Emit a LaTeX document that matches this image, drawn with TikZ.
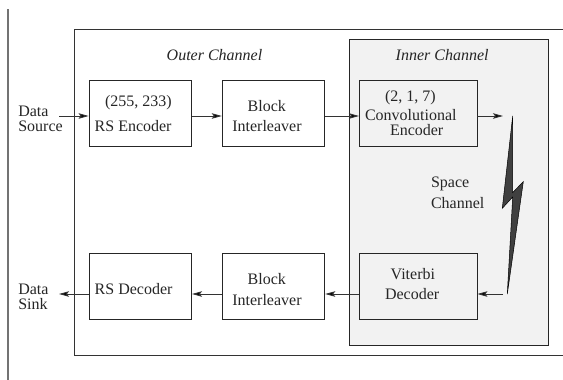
\documentclass[tikz,border=0pt]{standalone}
\usepackage{fontspec}
\setmainfont{Liberation Serif}
\usetikzlibrary{arrows.meta}
\tikzset{
  x=1pt,y=-1pt,
  blockbox/.style={draw=black!85,line width=0.9pt,minimum width=102.5pt,minimum height=66pt,inner sep=0pt,anchor=center},
  grayblock/.style={blockbox,fill=black!5},
  lbl/.style={inner sep=0pt,outer sep=0pt,align=left,anchor=base west,text=black!85,font=\fontsize{16}{16}\selectfont},
  ital/.style={lbl,font=\fontsize{16}{16}\selectfont\itshape},
  conn/.style={draw=black!80,line width=0.9pt,-{Stealth[length=10pt,width=5.5pt,inset=2pt,fill=black]}},
  plainline/.style={draw=black!80,line width=0.9pt},
}
\begin{document}
\begin{tikzpicture}
\useasboundingbox (0,0) rectangle (563,380);
\fill[white] (0,0) rectangle (563,380);
% page rule and outer (open on the right) box
\draw[draw=black!55,line width=1.4pt] (8,9) -- (8,380);
\draw[draw=black!80,line width=0.9pt] (563,29.5) -- (74,29.5) -- (74,355) -- (563,355);
% inner channel
\node[draw=black!85,fill=black!5,line width=0.9pt,minimum width=198.5pt,minimum height=305.5pt,inner sep=0pt] (inner) at (449,192.3) {};
% boxes
\node[blockbox] (enc) at (140.3,113) {};
\node[blockbox] (il1) at (273.5,113) {};
\node[grayblock,minimum width=117.5pt] (conv) at (418.2,113) {};
\node[blockbox] (dec) at (140.3,286) {};
\node[blockbox] (il2) at (273.5,286) {};
\node[grayblock,minimum width=117.5pt] (vit) at (418.2,286) {};
% labels
\node[ital] (outerl) at (166.7,60) {Outer Channel};
\node[ital] (innerl) at (395.7,60) {Inner Channel};
\node[lbl] (src) at (18.3,131) {Data\\[-1pt]Source};
\node[lbl] (snk) at (18.3,309) {Data\\[-1pt]Sink};
\node[lbl] (enct) at (94.7,131.7) {\hspace*{10.3pt}(255, 233)\\[9pt]RS Encoder};
\node[lbl] (il1t) at (232.3,131.7) {\hspace*{15.4pt}Block\\[4pt]Interleaver};
\node[lbl] (convt) at (365,135.7) {\hspace*{20pt}(2, 1, 7)\\[3pt]Convolutional\\[-1pt]\hspace*{25pt}Encoder};
\node[lbl] (space) at (431,208.3) {Space\\[5pt]Channel};
\node[lbl] (dect) at (94.7,294) {RS Decoder};
\node[lbl] (il2t) at (232.3,305.7) {\hspace*{15.4pt}Block\\[5.7pt]Interleaver};
\node[lbl] (vitt) at (385,299) {\hspace*{5.7pt}Viterbi\\[4pt]Decoder};
% lightning bolt
\fill[black!75] (512.7,116) -- (502.3,208.3) -- (512.7,197) -- (507.3,294) -- (523.3,181.7) -- (512.7,192.5) -- cycle;
\draw[black,line width=0.5pt,line join=miter] (512.7,116) -- (502.3,208.3) -- (512.7,197) -- (507.3,294) -- (523.3,181.7) -- (512.7,192.5) -- cycle;
% free ends
\coordinate (srcend) at (59,116);
\coordinate (snkend) at (59,294);
\coordinate (txend) at (503,116);
\coordinate (rxend) at (503,294);
% connectors
\draw[conn] (srcend) -- ([yshift=-3pt]enc.west);
\draw[conn] ([yshift=-3pt]enc.east) -- ([yshift=-3pt]il1.west);
\draw[conn] ([yshift=-3pt]il1.east) -- ([yshift=-3pt]conv.west);
\draw[conn] ([yshift=-3pt]conv.east) -- (txend);
\draw[conn] (rxend) -- ([yshift=-8pt]vit.east);
\draw[conn] ([yshift=-8pt]vit.west) -- ([yshift=-8pt]il2.east);
\draw[conn] ([yshift=-8pt]il2.west) -- ([yshift=-8pt]dec.east);
\draw[conn] ([yshift=-8pt]dec.west) -- (snkend);
\end{tikzpicture}
\end{document}
